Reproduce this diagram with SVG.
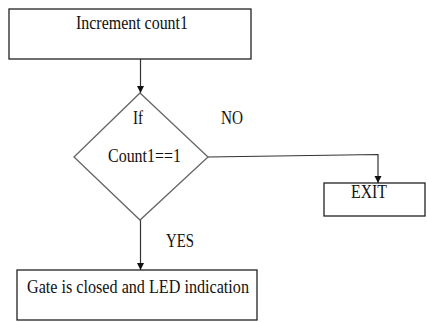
<svg xmlns="http://www.w3.org/2000/svg" width="427" height="322" viewBox="0 0 427 322">
<style>
.box{fill:#fff;stroke:#222;stroke-width:1.3}
.dia{fill:#fff;stroke:#666;stroke-width:1.3}
.ln{fill:none;stroke:#333;stroke-width:1.2}
text{font-family:"Liberation Serif","Times New Roman",serif;font-size:18px;fill:#111}
</style>
<defs>
<marker id="ah" viewBox="0 0 10 10" refX="10" refY="5" markerWidth="7" markerHeight="9" markerUnits="userSpaceOnUse" orient="auto"><path d="M0,0 L10,5 L0,10 z" fill="#111"/></marker>
</defs>
<rect width="427" height="322" fill="#fff"/>
<g id="connectors">
<line class="ln" x1="140.5" y1="59" x2="140.5" y2="93" marker-end="url(#ah)"/>
<polyline class="ln" points="208,157 378,154.5 378,183" marker-end="url(#ah)"/>
<line class="ln" x1="140.5" y1="220" x2="140.5" y2="270" marker-end="url(#ah)"/>
<text x="221" y="124" textLength="22" lengthAdjust="spacingAndGlyphs">NO</text>
<text x="166" y="247" textLength="28" lengthAdjust="spacingAndGlyphs">YES</text>
</g>
<g id="increment">
<rect class="box" x="9" y="9" width="242" height="50"/>
<text x="76" y="29" textLength="112" lengthAdjust="spacingAndGlyphs">Increment count1</text>
</g>
<g id="decision">
<polygon class="dia" points="140,93 208,157 140,220 74,157"/>
<text x="133" y="124" textLength="10" lengthAdjust="spacingAndGlyphs">If</text>
<text x="108" y="162" textLength="73" lengthAdjust="spacingAndGlyphs">Count1==1</text>
</g>
<g id="exit">
<rect class="box" x="324" y="183" width="101" height="33"/>
<text x="351" y="198" textLength="36" lengthAdjust="spacingAndGlyphs">EXIT</text>
</g>
<g id="gate">
<rect class="box" x="17" y="270" width="240" height="50"/>
<text x="27" y="293" textLength="222" lengthAdjust="spacingAndGlyphs">Gate is closed and LED indication</text>
</g>
</svg>
